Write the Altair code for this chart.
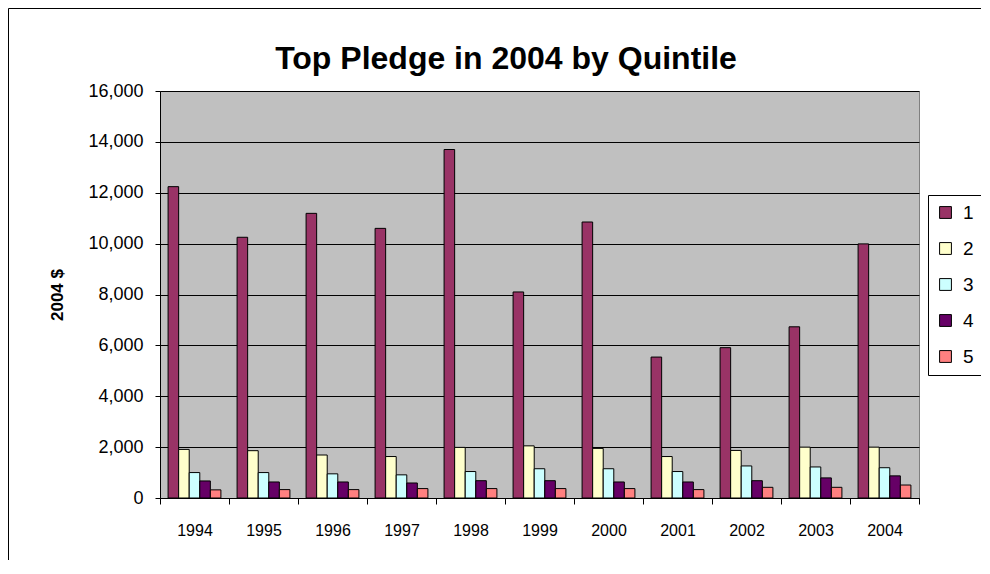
import altair as alt
import pandas as pd

years = ["1994", "1995", "1996", "1997", "1998", "1999", "2000", "2001", "2002", "2003", "2004"]
quintiles = ["1", "2", "3", "4", "5"]
q1 = [12240, 10250, 11190, 10600, 13700, 8100, 10850, 5540, 5910, 6730, 9990]
q2 = [1910, 1860, 1690, 1630, 1990, 2050, 1950, 1630, 1870, 2000, 2000]
q3 = [1000, 1000, 950, 910, 1040, 1150, 1150, 1040, 1260, 1220, 1190]
q4 = [670, 630, 630, 590, 680, 680, 630, 630, 680, 790, 870]
q5 = [320, 330, 330, 370, 370, 370, 370, 330, 420, 420, 510]
colors = ["#993366", "#FFFFCC", "#CCFFFF", "#660066", "#FF8080"]
title_text = "Top Pledge in 2004 by Quintile"
y_title = "2004 $"

series = [q1, q2, q3, q4, q5]
rows = []
for qi, q in enumerate(quintiles):
    for yi, yr in enumerate(years):
        rows.append({"year": yr, "quintile": q, "value": series[qi][yi]})
df = pd.DataFrame(rows)

W, H = 759, 407

bars = alt.Chart(df).mark_bar(stroke="black", strokeWidth=1).encode(
    x=alt.X("year:N", sort=years,
            scale=alt.Scale(paddingInner=0, paddingOuter=0),
            axis=alt.Axis(title=None, labelAngle=0, labelFont="Arial", labelFontSize=16,
                          labelColor="black", domainColor="black", tickColor="black",
                          tickBand="extent", tickSize=6, labelPadding=18, grid=False)),
    xOffset=alt.XOffset("quintile:N", sort=quintiles,
                        scale=alt.Scale(paddingInner=0, paddingOuter=0.765)),
    y=alt.Y("value:Q", scale=alt.Scale(domain=[0, 16000], nice=False),
            axis=alt.Axis(title=None, values=list(range(0, 16001, 2000)), format=",d",
                          labelFont="Arial", labelFontSize=18, labelColor="black",
                          domainColor="black", tickColor="black", tickSize=5,
                          labelPadding=12, grid=True, gridColor="black", gridWidth=1,
                          gridOpacity=1)),
    color=alt.Color("quintile:N", sort=quintiles,
                    scale=alt.Scale(domain=quintiles, range=colors),
                    legend=alt.Legend(title=None, orient="none", legendX=768, legendY=104,
                                      direction="vertical",
                                      strokeColor="black", fillColor="white", padding=8,
                                      symbolType="square", symbolSize=140,
                                      symbolStrokeColor="black", symbolStrokeWidth=1,
                                      labelFont="Arial", labelFontSize=19, labelColor="black",
                                      labelOffset=8, rowPadding=16)),
)

one = pd.DataFrame({"a": [0]})
title = alt.Chart(one).mark_text(text=title_text, font="Arial", fontSize=32,
                                  fontWeight="bold", color="black", align="center",
                                  baseline="alphabetic").encode(
    x=alt.value(346), y=alt.value(-22))
ytitle = alt.Chart(one).mark_text(text=y_title, font="Arial", fontSize=17,
                                   fontWeight="bold", color="black", align="center",
                                   baseline="middle", angle=270).encode(
    x=alt.value(-102), y=alt.value(204))
frame_left = alt.Chart(one).mark_rule(color="black", strokeWidth=1).encode(
    x=alt.value(-151.5), y=alt.value(-82.5), y2=alt.value(600))
frame_top = alt.Chart(one).mark_rule(color="black", strokeWidth=1).encode(
    y=alt.value(-82.5), x=alt.value(-151.5), x2=alt.value(900))

chart = alt.layer(frame_left, frame_top, bars, title, ytitle).properties(
    width=W, height=H,
    autosize=alt.AutoSizeParams(type="none"),
    padding={"left": 152, "top": 83, "right": 62, "bottom": 62},
    background="white",
).configure_view(fill="#C0C0C0", stroke="#808080", strokeWidth=1)

chart.save("out.html", embed_options={"renderer": "svg", "actions": False})
